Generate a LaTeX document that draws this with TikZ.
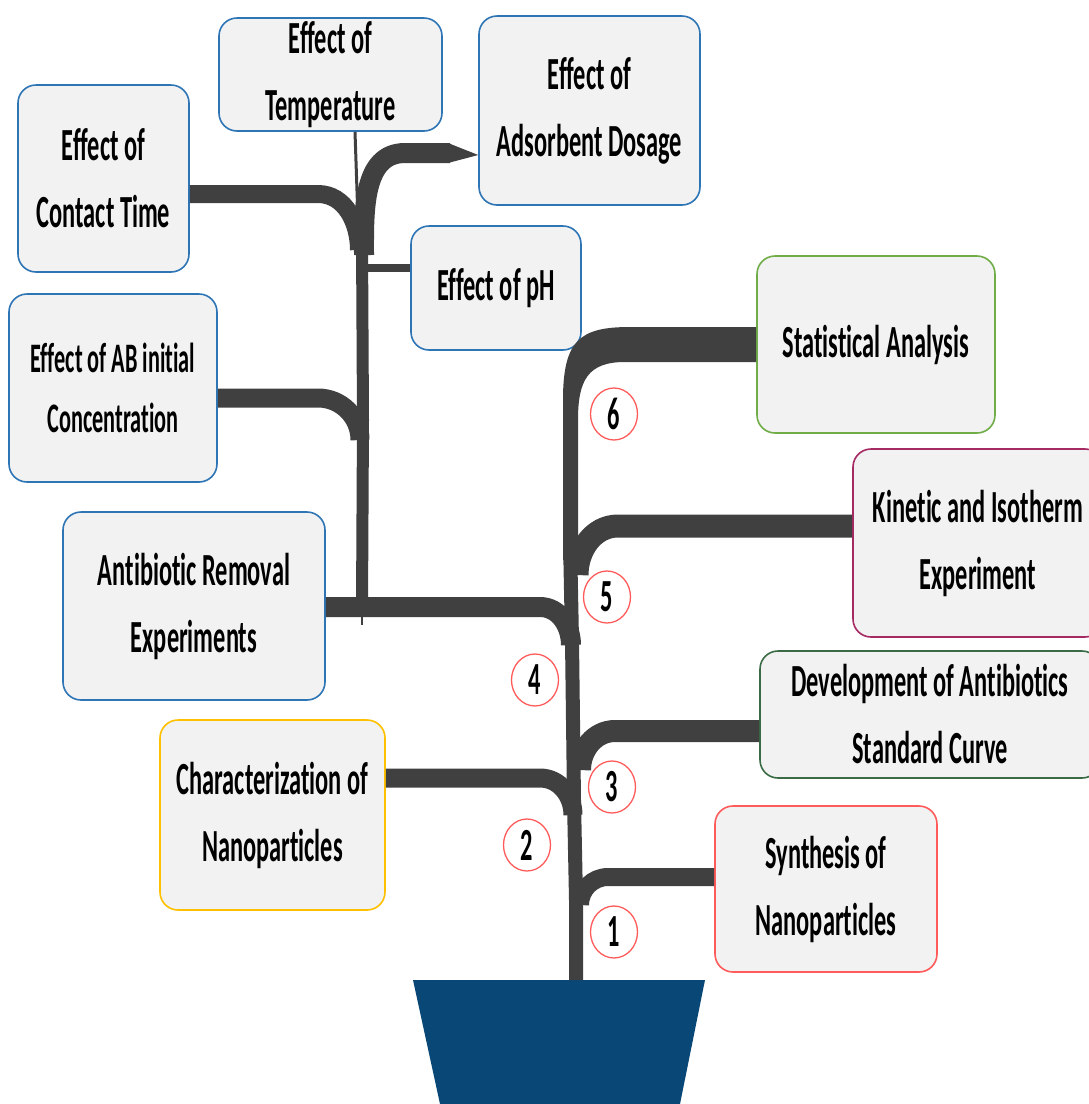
\documentclass[tikz,border=0pt]{standalone}
\usepackage{fontspec}
\setmainfont{Carlito}[FakeStretch=0.53,Ligatures=NoCommon]
\usetikzlibrary{shapes.geometric}
\definecolor{branch}{HTML}{404040}
\definecolor{boxfill}{HTML}{F2F2F2}
\definecolor{bblue}{HTML}{2E75B6}
\definecolor{byellow}{HTML}{FFC000}
\definecolor{bred}{HTML}{FF5B5B}
\definecolor{bdgreen}{HTML}{3A6B45}
\definecolor{bcrimson}{HTML}{A52A63}
\definecolor{bgreen}{HTML}{70AD47}
\definecolor{pot}{HTML}{094876}
\begin{document}
\begin{tikzpicture}[x=1pt,y=-1pt,
  box/.style={draw=#1, rounded corners=18pt, fill=boxfill, line width=1.6pt,
    inner sep=0pt, align=center, text=black,
    font=\fontsize{46}{67}\selectfont\bfseries},
  num/.style={ellipse, draw=bred, fill=white, line width=1.3pt,
    minimum width=47pt, minimum height=52pt, inner sep=0pt,
    font=\fontsize{46}{46}\selectfont\bfseries},
  br/.style={draw=branch, line width=#1, line cap=butt},
]
\useasboundingbox (0,0) rectangle (1089,1104);

% pot
\fill[pot] (413,980) -- (705,980) -- (680,1104) -- (440,1104) -- cycle;
\coordinate (pottop) at (576,980);

% boxes
\node[box=bblue, minimum width=223pt, minimum height=113pt] (temp) at (330.5,74.5) {Effect of\\Temperature};
\node[box=bblue, minimum width=221pt, minimum height=189pt] (ads) at (589.5,110.5) {Effect of\\Adsorbent Dosage};
\node[box=bblue, minimum width=171pt, minimum height=187pt] (ct) at (103.5,178.5) {Effect of\\Contact Time};
\node[box=bblue, minimum width=170pt, minimum height=124pt] (ph) at (496,288) {Effect of pH};
\node[box=bblue, minimum width=208pt, minimum height=188pt, font=\fontsize{42}{60}\selectfont\bfseries] (ab) at (113,388) {Effect of AB initial\\Concentration};
\node[box=bblue, minimum width=262pt, minimum height=188pt] (abr) at (194,606) {Antibiotic Removal\\Experiments};
\node[box=byellow, minimum width=225pt, minimum height=190pt] (char) at (272.5,815) {Characterization of\\Nanoparticles};
\node[box=bred, minimum width=222pt, minimum height=166pt] (syn) at (826,889) {Synthesis of\\Nanoparticles};
\node[box=bdgreen, minimum width=340pt, minimum height=127pt] (dev) at (930,714.5) {Development of Antibiotics\\Standard Curve};
\node[box=bcrimson, minimum width=250pt, minimum height=188pt] (kin) at (978,543) {Kinetic and Isotherm\\Experiment};
\node[box=bgreen, minimum width=238pt, minimum height=177pt] (stat) at (876,344.5) {Statistical Analysis};

% trunk junction coordinates
\coordinate (j1) at (580,905);
\coordinate (j2) at (573,815);
\coordinate (j3) at (580,770);
\coordinate (j4) at (571,645);
\coordinate (j5) at (577,575);
\coordinate (stem) at (362,607);

% trunk
\draw[br=14pt] (pottop) -- (576,900) -- (574,800) -- (572,640) -- (570,540);
% statistical analysis branch (tapered)
\fill[branch] (563,560) -- (563,400) .. controls (563,340) and (580,327) .. (630,327)
  -- (stat.west |- 0,327) -- (stat.west |- 0,362) -- (625,362)
  .. controls (588,362) and (578,380) .. (578,420) -- (578,560) -- cycle;
% main branches
\draw[br=23pt] (kin.west |- 0,526) -- (618,526) to[out=180,in=90] (j5);
\draw[br=22pt] (dev.west |- 0,731) -- (615,731) to[out=180,in=90] (j3);
\draw[br=18pt] (syn.west |- 0,877) -- (608,877) to[out=180,in=90] (j1);
\draw[br=19pt] (char.east |- 0,778) -- (540,778) to[out=0,in=90] (j2);
\draw[br=20pt] (abr.east |- 0,607) -- (540,607) to[out=0,in=90] (j4);

% sub-tree of antibiotic removal
\draw[br=12pt] (stem) -- (363,420) -- (362,240);
\draw[br=2pt] (stem) -- (362,625);
\draw[br=3pt] (temp.south -| 355,0) -- (359,250);
\draw[br=18pt] (ct.east |- 0,194) -- (318,194) to[out=0,in=90] (359,250);
\draw[br=20pt] (364,255) to[out=90,in=180] (405,153) -- (450,153);
\fill[branch] (448,143) -- (ads.west |- 0,155) -- (448,163) -- cycle;
\draw[br=8pt] (364,268) -- (ph.west |- 0,268);
\draw[br=19pt] (ab.east |- 0,398) -- (318,398) to[out=0,in=90] (360,440);

% step numbers
\node[num] (n1) at (614,932) {1};
\node[num] (n2) at (527,845) {2};
\node[num] (n3) at (612,787) {3};
\node[num] (n4) at (535,680) {4};
\node[num] (n5) at (607,597) {5};
\node[num] (n6) at (614,414) {6};
\end{tikzpicture}
\end{document}
